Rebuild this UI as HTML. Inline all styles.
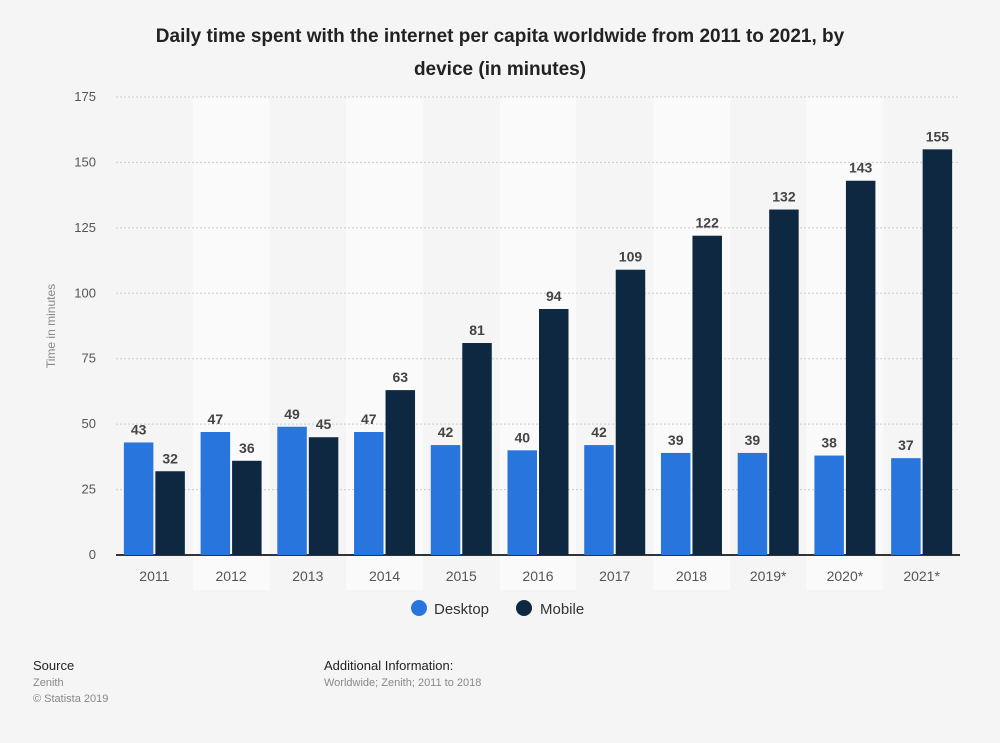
<!DOCTYPE html>
<html><head><meta charset="utf-8"><style>
body{margin:0;background:#f5f5f5;font-family:"Liberation Sans",Arial,sans-serif;}
#wrap{position:relative;width:1000px;height:743px;background:#f5f5f5;overflow:hidden}
</style></head><body>
<div id="wrap">
<svg id="chart" width="1000" height="743">
<text x="500" y="42" text-anchor="middle" font-size="19" font-weight="bold" fill="#222">Daily time spent with the internet per capita worldwide from 2011 to 2021, by</text>
<text x="500" y="75" text-anchor="middle" font-size="19" font-weight="bold" fill="#222">device (in minutes)</text>
<g id="bands"></g><g id="grid"></g><g id="bars"></g><g id="labels"></g>
<text transform="translate(55,326) rotate(-90)" text-anchor="middle" font-size="12" fill="#888">Time in minutes</text>
<g>
<circle cx="419" cy="608" r="8" fill="#2876dd"/>
<text x="434" y="614" font-size="15" fill="#333">Desktop</text>
<circle cx="524" cy="608" r="8" fill="#0f2841"/>
<text x="540" y="614" font-size="15" fill="#333">Mobile</text>
</g>
<text x="33" y="670" font-size="13" fill="#222">Source</text>
<text x="33" y="686" font-size="11" fill="#888">Zenith</text>
<text x="33" y="702" font-size="11" fill="#888">© Statista 2019</text>
<text x="324" y="670" font-size="13" fill="#222">Additional Information:</text>
<text x="324" y="686" font-size="11" fill="#888">Worldwide; Zenith; 2011 to 2018</text>
</svg>
</div>
<script>
const categories=["2011","2012","2013","2014","2015","2016","2017","2018","2019*","2020*","2021*"];
const desktop=[43,47,49,47,42,40,42,39,39,38,37];
const mobile=[32,36,45,63,81,94,109,122,132,143,155];
const yTicks=[0,25,50,75,100,125,150,175];
const NS="http://www.w3.org/2000/svg";
const X0=116,X1=960,Y0=555,Y1=97,YMAX=175;
const bw=(X1-X0)/categories.length;
const y=v=>Y0-(v/YMAX)*(Y0-Y1);
const xc=i=>X0+bw*(i+0.5);
function mk(tag,attrs,parent,txt){const e=document.createElementNS(NS,tag);for(const k in attrs)e.setAttribute(k,attrs[k]);if(txt!==undefined)e.textContent=txt;document.getElementById(parent).appendChild(e);return e;}
categories.forEach((c,i)=>{
  if(i%2===1){const b=mk('rect',{x:X0+bw*i,y:Y1,width:bw,height:Y0-Y1+35,fill:'#fafafa'},'bands');
  
  }
});
yTicks.forEach(t=>{
  if(t>0){const l=mk('line',{x1:X0,x2:X1,y1:y(t),y2:y(t),stroke:'#ccc','stroke-dasharray':'2,2'},'grid');
  
  }
  const tx=mk('text',{x:96,y:y(t)+4,'text-anchor':'end','font-size':13,fill:'#555'},'grid',t);
  
  
});
const ax=mk('line',{x1:X0,x2:X1,y1:Y0,y2:Y0,stroke:'#333','stroke-width':2},'grid');


const w=29.5;
categories.forEach((c,i)=>{
  const cx=xc(i);
  const series=[[desktop[i],cx-w-1,'#2876dd','desktop'],[mobile[i],cx+1,'#0f2841','mobile']];
  series.forEach(([v,x,col,n])=>{
    const r=mk('rect',{x:x,y:y(v),width:w,height:Y0-y(v),fill:col},'bars');
    
    
    const t=mk('text',{x:x+w/2,y:y(v)-8,'text-anchor':'middle','font-size':14,'font-weight':'bold',fill:'#444'},'labels',v);
    
    
  });
  const xl=mk('text',{x:cx,y:581,'text-anchor':'middle','font-size':14,fill:'#555'},'labels',c);
  
  
});
</script>
</body></html>
